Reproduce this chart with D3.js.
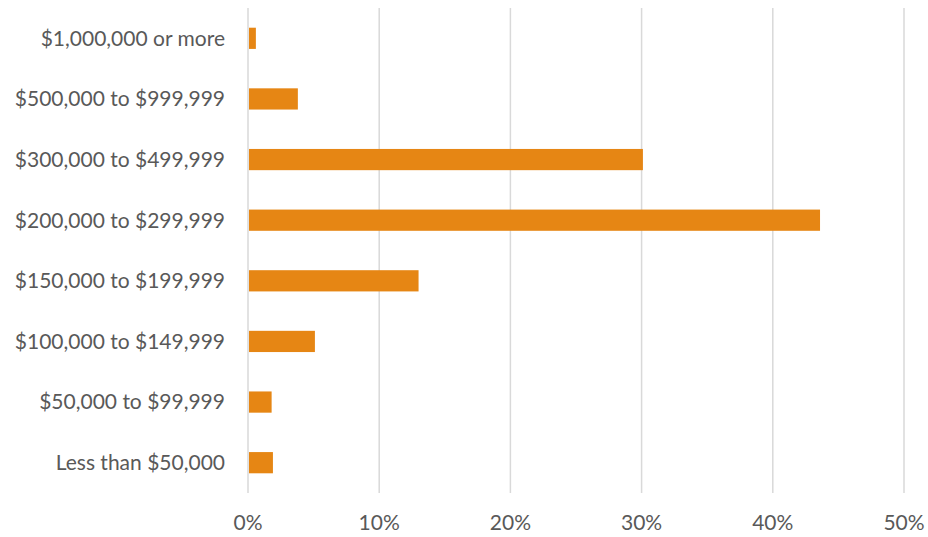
<!DOCTYPE html>
<html>
<head>
<meta charset="utf-8">
<script src="https://cdn.jsdelivr.net/npm/d3@7"></script>
<style>
  body { margin: 0; background: #fff; }
  svg { display: block; font-family: Lato, "Open Sans", sans-serif; }
</style>
</head>
<body>
<div id="chart"></div>
<script>
const categories = [
  "$1,000,000 or more",
  "$500,000 to $999,999",
  "$300,000 to $499,999",
  "$200,000 to $299,999",
  "$150,000 to $199,999",
  "$100,000 to $149,999",
  "$50,000 to $99,999",
  "Less than $50,000"
];
const shares = [0.6, 3.8, 30.1, 43.6, 13.0, 5.1, 1.8, 1.9];
const ticks = [0, 10, 20, 30, 40, 50];

const width = 928;
const height = 537;
const margin = {top: 8, right: 24, bottom: 44, left: 248};

const svg = d3.select("#chart").append("svg")
  .attr("width", width)
  .attr("height", height);

const x = d3.scaleLinear()
  .domain([0, 50])
  .range([margin.left, width - margin.right]);

const y = d3.scaleBand()
  .domain(categories)
  .range([margin.top, height - margin.bottom])
  .paddingInner(0.65)
  .paddingOuter(0.325);

// gridlines
svg.append("g")
  .selectAll("line")
  .data(ticks)
  .join("line")
  .attr("x1", d => x(d))
  .attr("x2", d => x(d))
  .attr("y1", margin.top)
  .attr("y2", height - margin.bottom)
  .attr("stroke", "#d9d9d9")
  .attr("stroke-width", 1.5);

// bars
svg.append("g")
  .selectAll("rect")
  .data(categories)
  .join("rect")
  .attr("x", x(0) + 1)
  .attr("y", d => y(d))
  .attr("width", (d, i) => x(shares[i]) - x(0) - 1)
  .attr("height", y.bandwidth())
  .attr("fill", "#e68614");

// x tick labels
svg.append("g")
  .selectAll("text")
  .data(ticks)
  .join("text")
  .attr("x", d => x(d))
  .attr("y", 530)
  .attr("text-anchor", "middle")
  .attr("fill", "#595959")
  .attr("font-size", 21)
  .text(d => d + "%");

// category labels
svg.append("g")
  .selectAll("text")
  .data(categories)
  .join("text")
  .attr("x", 225)
  .attr("y", d => y(d) + y.bandwidth() / 2)
  .attr("dy", "0.35em")
  .attr("text-anchor", "end")
  .attr("fill", "#595959")
  .attr("font-size", 21)
  .text(d => d);
</script>
</body>
</html>
